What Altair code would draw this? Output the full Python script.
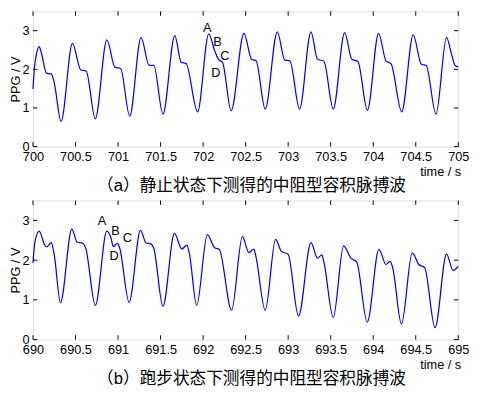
import altair as alt
import pandas as pd

# ---------------- data ----------------
top_t = [700.00, 700.015, 700.042, 700.073, 700.10, 700.158, 700.215, 700.25, 700.33,
         700.464, 700.56, 700.626, 700.733, 700.868, 700.964, 701.03, 701.137,
         701.27, 701.367, 701.42, 701.528, 701.667, 701.743, 701.80, 701.935,
         702.066, 702.135, 702.174, 702.23, 702.33, 702.48, 702.57, 702.623, 702.73,
         702.872, 702.96, 703.02, 703.134, 703.268, 703.345, 703.42, 703.53,
         703.664, 703.748, 703.82, 703.932, 704.063, 704.15, 704.21, 704.335,
         704.47, 704.566, 704.623, 704.738, 704.862, 704.92, 704.965, 705.0]
top_v = [1.49, 1.99, 2.41, 2.59, 2.41, 1.90, 1.88, 1.65, 0.65,
         2.67, 1.99, 1.95, 0.72, 2.76, 2.05, 2.02, 0.79,
         2.82, 2.10, 2.10, 0.84, 2.87, 2.18, 2.15, 0.90,
         2.92, 2.49, 2.28, 2.17, 0.93, 2.93, 2.26, 2.22, 0.97,
         2.97, 2.24, 2.22, 0.97, 2.97, 2.26, 2.21, 0.97,
         2.95, 2.26, 2.20, 0.94, 2.93, 2.22, 2.14, 0.90,
         2.89, 2.13, 2.10, 0.84, 2.82, 2.40, 2.09, 2.06]

bot_t = [690.00, 690.023, 690.073, 690.138, 690.16, 690.215, 690.25, 690.323,
         690.457, 690.52, 690.58, 690.62, 690.733, 690.868, 690.918, 690.944,
         690.994, 691.02, 691.13, 691.264, 691.33, 691.386, 691.42, 691.528,
         691.663, 691.75, 691.81, 691.84, 691.924, 692.05, 692.135, 692.19, 692.335,
         692.462, 692.538, 692.596, 692.62, 692.73, 692.853, 692.92, 692.999, 693.122,
         693.268, 693.345, 693.395, 693.42, 693.53, 693.652, 693.737, 693.806, 693.93,
         694.067, 694.15, 694.20, 694.23, 694.332, 694.459, 694.536, 694.605, 694.727,
         694.862, 694.94, 695.0]
bot_v = [1.93, 2.46, 2.73, 2.38, 2.33, 2.44, 2.13, 0.93,
         2.78, 2.45, 2.43, 2.30, 0.86, 2.73, 2.55, 2.34,
         2.42, 2.30, 0.94, 2.75, 2.43, 2.41, 2.30, 0.84,
         2.67, 2.28, 2.38, 2.15, 0.86, 2.64, 2.31, 2.27, 0.74,
         2.59, 2.19, 2.28, 2.10, 0.74, 2.52, 2.22, 2.15, 0.59,
         2.44, 2.05, 2.13, 1.95, 0.56, 2.36, 2.05, 1.95, 0.44,
         2.27, 1.89, 1.97, 1.80, 0.39, 2.18, 1.89, 1.81, 0.30,
         2.15, 1.74, 1.85]

ann_labels = ["A", "B", "C", "D"]
top_ann_t = [702.05, 702.17, 702.255, 702.15]
top_ann_v = [3.07, 2.70, 2.35, 1.90]
bot_ann_t = [690.81, 690.971, 691.11, 690.953]
bot_ann_v = [2.98, 2.73, 2.55, 2.09]

top_xticks = [700, 700.5, 701, 701.5, 702, 702.5, 703, 703.5, 704, 704.5, 705]
bot_xticks = [690, 690.5, 691, 691.5, 692, 692.5, 693, 693.5, 694, 694.5, 695]
yticks = [0, 1, 2, 3]

x_title = "time / s"
y_title = "PPG / V"
top_caption = "（a）静止状态下测得的中阻型容积脉搏波"
bot_caption = "（b）跑步状态下测得的中阻型容积脉搏波"

LATIN = "Liberation Sans, Arial, Noto Sans CJK SC"
W = 434
TICK = 4.5


def panel(t, v, xticks, ann_t, ann_v, caption, h):
    df = pd.DataFrame({"t": t, "v": v})
    xs = alt.Scale(domain=[xticks[0], xticks[-1]], nice=False, zero=False)
    ys = alt.Scale(domain=[0, 3.5], nice=False, zero=False)

    xaxis = alt.Axis(values=xticks, labelExpr="datum.value + ''", title=None,
                     ticks=False, tickSize=0, domain=False, grid=False,
                     labelPadding=4, labelFontSize=13, labelFont=LATIN,
                     labelColor="black", labelFlush=False, labelOverlap=False)
    yaxis = alt.Axis(values=yticks, title=y_title, ticks=False, tickSize=0,
                     domain=False, grid=False, labelPadding=4, labelFontSize=13,
                     labelFont=LATIN, labelColor="black", labelFlush=False,
                     titleFont=LATIN, titleFontSize=13, titleFontWeight="normal",
                     titleColor="black", titlePadding=0)

    line = alt.Chart(df).mark_line(color="#0000ff", strokeWidth=1.25,
                                   interpolate="monotone").encode(
        x=alt.X("t:Q", scale=xs, axis=xaxis),
        y=alt.Y("v:Q", scale=ys, axis=yaxis),
    )

    xt = pd.DataFrame({"x": xticks})
    yt = pd.DataFrame({"y": yticks})
    xb = alt.Chart(xt).mark_rule(color="black", strokeWidth=1).encode(
        x=alt.X("x:Q", scale=xs), y=alt.value(h), y2=alt.value(h - TICK))
    xtop = alt.Chart(xt).mark_rule(color="black", strokeWidth=1).encode(
        x=alt.X("x:Q", scale=xs), y=alt.value(0), y2=alt.value(TICK))
    yl = alt.Chart(yt).mark_rule(color="black", strokeWidth=1).encode(
        y=alt.Y("y:Q", scale=ys), x=alt.value(0), x2=alt.value(TICK))
    yr = alt.Chart(yt).mark_rule(color="black", strokeWidth=1).encode(
        y=alt.Y("y:Q", scale=ys), x=alt.value(W - TICK), x2=alt.value(W))

    ann = pd.DataFrame({"t": ann_t, "v": ann_v, "lab": ann_labels})
    txt = alt.Chart(ann).mark_text(font=LATIN, fontSize=13, color="black",
                                   align="center", baseline="middle").encode(
        x=alt.X("t:Q", scale=xs), y=alt.Y("v:Q", scale=ys), text="lab:N")

    xlab = alt.Chart(pd.DataFrame({"s": [x_title]})).mark_text(
        font=LATIN, fontSize=13, color="black", align="right", baseline="middle"
    ).encode(x=alt.value(W + 3), y=alt.value(h + 26), text="s:N")

    cap = alt.Chart(pd.DataFrame({"s": [caption]})).mark_text(
        font=LATIN, fontSize=17, color="black", align="center", baseline="middle"
    ).encode(x=alt.value(223), y=alt.value(h + 40), text="s:N")

    return alt.layer(line, xb, xtop, yl, yr, txt, xlab, cap).properties(
        width=W, height=h)


top = panel(top_t, top_v, top_xticks, top_ann_t, top_ann_v, top_caption, 138)
bot = panel(bot_t, bot_v, bot_xticks, bot_ann_t, bot_ann_v, bot_caption, 142)

chart = alt.vconcat(top, bot, spacing=5).properties(
    padding={"left": 0.5, "top": -1.5, "right": 2, "bottom": 0}
).configure_view(stroke="black", strokeWidth=1).configure(background="white")

chart.save("out.html", embed_options={"renderer": "svg", "actions": False})
